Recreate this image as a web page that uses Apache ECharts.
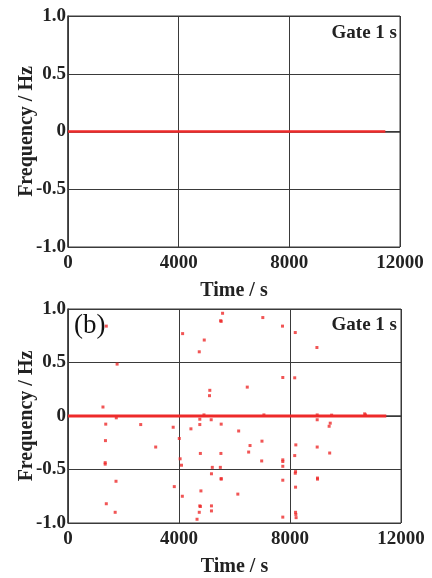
<!DOCTYPE html>
<html>
<head>
<meta charset="utf-8">
<script src="https://cdn.jsdelivr.net/npm/echarts@6/dist/echarts.min.js"></script>
<style>
html,body{margin:0;padding:0;background:#fff;}
#c{width:432px;height:578px;}
</style>
</head>
<body>
<div id="c"></div>
<script>
// ---- data ----
var xTicks = [0, 4000, 8000, 12000];
var xTickLabels = ['0', '4000', '8000', '12000'];
var yTicks = [-1.0, -0.5, 0, 0.5, 1.0];
var yTickLabels = ['-1.0', '-0.5', '0', '0.5', '1.0'];
// Main (dense) trace at zero, panels (a) and (b)
var traceTimeA = [0, 4000, 8000, 11470];
var traceFreqA = [0, 0, 0, 0];
var traceTimeB = [0, 4000, 8000, 11470];
var traceFreqB = [0, 0, 0, 0];
// Outliers in panel (b)
var outTime = [1380,1260,1770,4130,5570,5500,5520,4910,4730,7020,7730,8190,8970,7740,8170,6460,5110,5100,
  1360,1350,1340,1340,1730,1380,1700,2620,3160,3790,3830,4010,4040,4090,4120,4430,4750,4750,4770,5160,5520,5510,5200,5490,5170,5520,5520,
  4790,4750,4770,4730,4650,5170,5170,6150,6560,6510,6990,6980,6120,7740,7740,7740,7740,7740,8210,8170,8200,8190,8200,8200,8210,8220,
  8980,8990,8990,9450,9410,9430,8980,1740,4900,7060,10690,10720,9500,8980];
var outFreq = [0.84,0.084,0.485,0.77,0.96,0.89,0.885,0.71,0.60,0.92,0.84,0.78,0.64,0.36,0.357,0.27,0.24,0.19,
  -0.076,-0.23,-0.436,-0.45,-0.61,-0.82,-0.90,-0.08,-0.29,-0.105,-0.66,-0.21,-0.40,-0.46,-0.75,-0.12,-0.03,-0.08,-0.35,-0.035,-0.076,-0.35,-0.48,-0.48,-0.54,-0.585,-0.59,
  -0.70,-0.84,-0.846,-0.90,-0.965,-0.84,-0.887,-0.14,-0.276,-0.337,-0.235,-0.42,-0.73,-0.41,-0.425,-0.47,-0.60,-0.945,-0.27,-0.37,-0.52,-0.535,-0.665,-0.90,-0.92,-0.95,
  -0.29,-0.58,-0.59,-0.067,-0.096,-0.346,-0.035,-0.017,0.01,0.01,0.02,0.01,0.008,0.01];
var panelTag = '(b)';
var gateText = 'Gate 1 s';
var xName = 'Time / s';
var yName = 'Frequency / Hz';

function zip(a, b) { return a.map(function (v, i) { return [v, b[i]]; }); }

var FONT = '"Liberation Serif", "Times New Roman", serif';
var RED = '#ee2a2a';
var GRIDC = '#3a3a3a';

function xAxisCfg(gi) {
  return {
    type: 'value', gridIndex: gi, min: xTicks[0], max: xTicks[xTicks.length - 1], interval: 4000,
    name: xName, nameLocation: 'middle', nameGap: 34, nameMoveOverlap: false,
    nameTextStyle: { fontFamily: FONT, fontWeight: 'bold', fontSize: 20, color: '#222' },
    axisLine: { show: true, lineStyle: { color: GRIDC, width: 1.5 } },
    axisTick: { show: false },
    axisLabel: { fontFamily: FONT, fontWeight: 'bold', fontSize: 19, color: '#222', margin: 7,
      formatter: function (v) { var i = xTicks.indexOf(v); return i >= 0 ? xTickLabels[i] : ''; } },
    splitLine: { show: true, lineStyle: { color: GRIDC, width: 1 } }
  };
}
function yAxisCfg(gi) {
  return {
    type: 'value', gridIndex: gi, min: -1, max: 1, interval: 0.5,
    name: yName, nameLocation: 'middle', nameGap: 31, nameRotate: 90, nameMoveOverlap: false,
    nameTextStyle: { fontFamily: FONT, fontWeight: 'bold', fontSize: 20, color: '#222' },
    axisLine: { show: true, lineStyle: { color: GRIDC, width: 1.5 } },
    axisTick: { show: false },
    axisLabel: { fontFamily: FONT, fontWeight: 'bold', fontSize: 19, color: '#222', margin: 2,
      formatter: function (v) { var i = yTicks.indexOf(v); return i >= 0 ? yTickLabels[i] : ''; } },
    splitLine: { show: true, lineStyle: { color: GRIDC, width: 1 } }
  };
}

var chart = echarts.init(document.getElementById('c'), null, { renderer: 'canvas' });
chart.setOption({
  animation: false,
  backgroundColor: '#fff',
  grid: [
    { left: 68, top: 16, width: 332, height: 231, show: true, borderColor: GRIDC, borderWidth: 1, containLabel: false },
    { left: 68, top: 309, width: 333, height: 230, show: true, borderColor: GRIDC, borderWidth: 1, containLabel: false }
  ],
  xAxis: [xAxisCfg(0), xAxisCfg(1)],
  yAxis: [yAxisCfg(0), yAxisCfg(1)],
  title: [
    { text: gateText, right: 35, top: 24, textStyle: { fontFamily: FONT, fontWeight: 'bold', fontSize: 19, color: '#222' }, padding: 0 },
    { text: gateText, right: 35, top: 316, textStyle: { fontFamily: FONT, fontWeight: 'bold', fontSize: 19, color: '#222' }, padding: 0 },
    { text: panelTag, left: 74, top: 312, textStyle: { fontFamily: FONT, fontWeight: 'normal', fontSize: 27, color: '#111' }, padding: 0 }
  ],
  series: [
    { type: 'line', xAxisIndex: 0, yAxisIndex: 0, data: zip(traceTimeA, traceFreqA), symbol: 'none',
      lineStyle: { color: RED, width: 2.5 }, silent: true },
    { type: 'line', xAxisIndex: 1, yAxisIndex: 1, data: zip(traceTimeB, traceFreqB), symbol: 'none',
      lineStyle: { color: RED, width: 3 }, silent: true },
    { type: 'scatter', xAxisIndex: 1, yAxisIndex: 1, data: zip(outTime, outFreq), symbol: 'rect', symbolSize: 3,
      itemStyle: { color: RED }, silent: true }
  ]
});
</script>
</body>
</html>
